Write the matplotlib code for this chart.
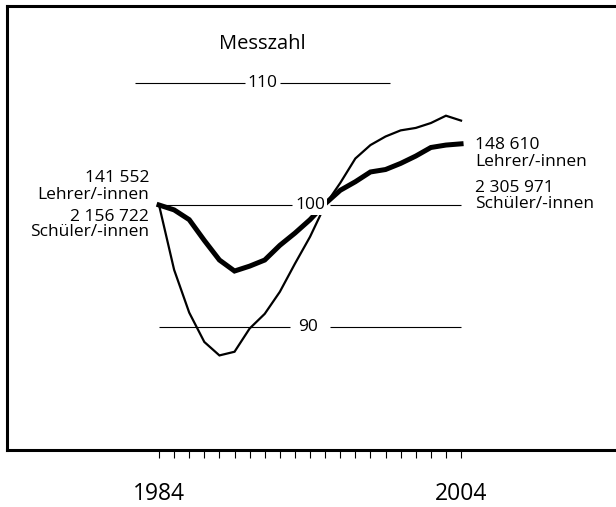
import matplotlib
matplotlib.use("Agg")
import matplotlib.pyplot as plt
from matplotlib.ticker import FixedLocator, FuncFormatter

plt.rcParams['font.family'] = ['Open Sans', 'DejaVu Sans']

# ---- data ----
years = list(range(1984, 2005))
lehrer = [100.0, 99.6, 98.8, 97.1, 95.5, 94.6, 95.0, 95.5, 96.7, 97.7, 98.8,
          100.1, 101.2, 101.9, 102.7, 102.9, 103.4, 104.0, 104.7, 104.9, 105.0]
schueler = [100.0, 94.7, 91.2, 88.8, 87.7, 88.0, 89.9, 91.1, 92.9, 95.2, 97.4,
            100.0, 101.8, 103.8, 104.9, 105.6, 106.1, 106.3, 106.7, 107.3, 106.9]
ref_levels = [110, 100, 90]
ref_labels = ["110", "100", "90"]
ref_label_x = [1990.82, 1994.0, 1993.9]
ref_segments = [[(1982.41, 1989.70), (1992.01, 1999.30)],
                [(1984.0, 1992.79), (1995.32, 2004.0)],
                [(1984.0, 1992.68), (1995.32, 2004.0)]]
tick_years = years
labeled_years = [1984, 2004]
title = "Messzahl"
left_labels = ["141 552", "Lehrer/-innen", "2 156 722", "Schüler/-innen"]
left_label_y = [102.2, 100.8, 99.0, 97.8]
right_labels = ["148 610", "Lehrer/-innen", "2 305 971", "Schüler/-innen"]
right_label_y = [104.9, 103.54, 101.39, 100.08]

W, H = 616, 507
fig = plt.figure(figsize=(W / 100, H / 100), dpi=100)
ax = fig.add_axes([7 / W, 1 - 450 / H, 1 - 7 / W, (450 - 6) / H])
ax.set_xlim(1973.934, 2014.26)
ax.set_ylim(79.967, 116.27)

for side in ['left', 'top', 'bottom']:
    ax.spines[side].set_linewidth(2.2)
    ax.spines[side].set_color('black')
ax.spines['right'].set_visible(False)

ax.yaxis.set_visible(False)
ax.xaxis.set_major_locator(FixedLocator(tick_years))
ax.xaxis.set_major_formatter(FuncFormatter(lambda v, p: str(int(round(v))) if int(round(v)) in labeled_years else ""))
ax.tick_params(axis='x', direction='out', length=6, width=0.8, pad=17, labelsize=16.5)

# reference lines
for lvl, segs in zip(ref_levels, ref_segments):
    for a, b in segs:
        ax.plot([a, b], [lvl, lvl], color='black', lw=0.8, solid_capstyle='butt', zorder=1)

ax.plot(years, schueler, color='black', lw=1.6, zorder=2, solid_joinstyle='miter')
ax.plot(years, lehrer, color='black', lw=3.6, zorder=3, solid_joinstyle='miter')

for lbl, lx, lvl in zip(ref_labels, ref_label_x, ref_levels):
    kw = {}
    if lbl == "100":
        kw = dict(bbox=dict(boxstyle='square,pad=0.12', fc='white', ec='none'))
    ax.text(lx, lvl, lbl, ha='center', va='center', fontsize=12.5, zorder=5, **kw)

ax.text(1990.82, 113.16, title, ha='center', va='center', fontsize=14.5)

for t, yv in zip(left_labels, left_label_y):
    ax.text(1983.34, yv, t, ha='right', va='center', fontsize=12.5)
for t, yv in zip(right_labels, right_label_y):
    ax.text(2004.93, yv, t, ha='left', va='center', fontsize=12.5)

fig.savefig("out.png", dpi=100)
